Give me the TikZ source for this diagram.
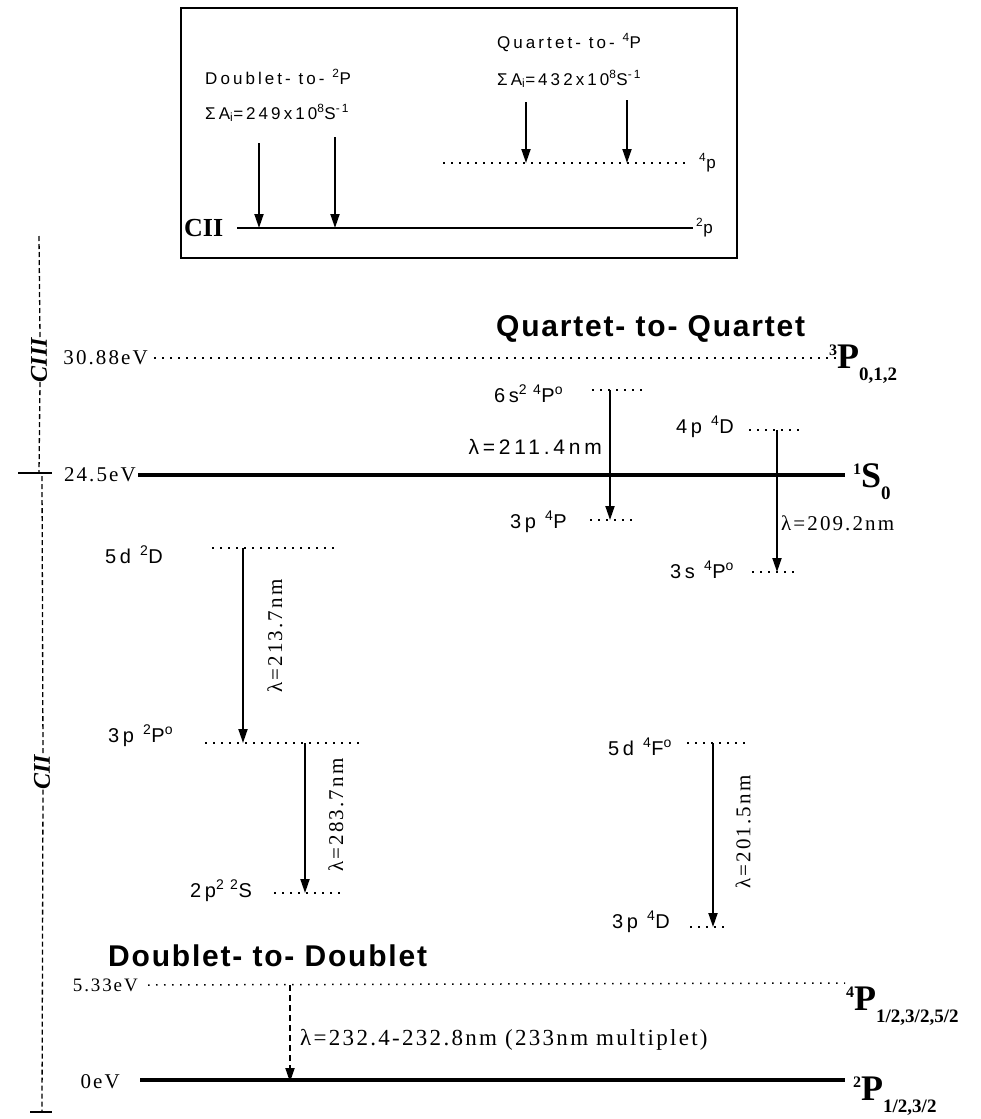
\documentclass[tikz,border=0pt]{standalone}
\usepackage{fontspec}
\setmainfont{Liberation Serif}
\setsansfont{Liberation Sans}
\newfontfamily\lvlfont[LetterSpace=18]{Liberation Sans}
\newfontfamily\valfont[LetterSpace=10]{Liberation Serif}
\newfontfamily\ttlfont[LetterSpace=6]{Liberation Sans}
\usetikzlibrary{arrows.meta}

\newcommand{\termsym}[3]{\rmfamily\bfseries
  \raisebox{13pt}{\fontsize{16}{16}\selectfont #1}%
  {\fontsize{36}{36}\selectfont #2}%
  \raisebox{-12pt}{\fontsize{19}{19}\selectfont #3}}

\begin{document}
\begin{tikzpicture}[
    x=1pt, y=-1pt,
    lvl/.style={font=\lvlfont\fontsize{20}{20}\selectfont, anchor=base west, inner sep=0pt},
    inset/.style={font=\lvlfont\fontsize{17}{17}\selectfont, anchor=base west, inner sep=0pt},
    val/.style={font=\valfont\fontsize{21}{21}\selectfont, inner sep=0pt},
    ttl/.style={font=\ttlfont\bfseries\fontsize{30}{30}\selectfont, anchor=base west, inner sep=0pt},
    trm/.style={anchor=base west, inner sep=0pt},
    axlbl/.style={font=\rmfamily\bfseries\itshape\fontsize{24}{24}\selectfont, rotate=90, inner sep=0pt},
    dots/.style={line width=1.5pt, dash pattern=on 1.5pt off 6.5pt},
    gnd/.style={line width=4pt},
    axis/.style={line width=1.3pt, dash pattern=on 5pt off 3pt},
    flow/.style={-{Triangle[length=14pt,width=9pt]}, line width=1.9pt},
  ]
  \useasboundingbox (0,0) rectangle (980,1119);

  % --- Inset: decay into the CII ground terms -----------------------------
  \draw[line width=1.2pt] (181,8) rectangle (737,258);
  \node[inset] (dblt) at (205,84)  {Doublet- to- \textsuperscript{2}P};
  \node[inset] (dblA) at (205,119) {ΣA\textsubscript{i}=249x10\textsuperscript{8}S\textsuperscript{-1}};
  \node[inset] (qrtt) at (497,48)  {Quartet- to- \textsuperscript{4}P};
  \node[inset] (qrtA) at (497,85)  {ΣA\textsubscript{i}=432x10\textsuperscript{8}S\textsuperscript{-1}};

  \node[font=\rmfamily\bfseries\fontsize{26}{26}\selectfont, anchor=west, inner sep=0pt] (cii) at (184,228) {CII};
  \coordinate (g2l) at (237,228);
  \coordinate (g2r) at (693,228);
  \draw[line width=1.6pt] (g2l) -- (g2r);
  \node[inset] (g2lbl) at (696,233) {\textsuperscript{2}p};

  \coordinate (q4l) at (443,163);
  \coordinate (q4r) at (688,163);
  \draw[dots] (q4l) -- (q4r);
  \node[inset] (q4lbl) at (699,168) {\textsuperscript{4}p};

  \coordinate (d1) at (259,143);
  \coordinate (d2) at (335,137);
  \coordinate (q1) at (526,102);
  \coordinate (q2) at (627,100);
  \foreach \n in {d1, d2}
    \draw[flow] (\n) -- (\n |- g2l);
  \foreach \n in {q1, q2}
    \draw[flow] (\n) -- (\n |- q4l);

  % --- Energy axis --------------------------------------------------------
  \node[axlbl] (ciii) at (39,360) {CIII};
  \node[axlbl] (cii2) at (42,772) {CII};
  \coordinate (axtop) at (39,236);
  \coordinate (ax24)  at (39,473);
  \coordinate (ax24b) at (42,476);
  \coordinate (axbot) at (42,1112);
  \draw[axis] (axtop) -- ([xshift=1pt]ciii.east);
  \draw[axis] ([xshift=1pt]ciii.west) -- (ax24);
  \draw[axis] (ax24b) -- ([xshift=1pt]cii2.east);
  \draw[axis] ([xshift=1pt]cii2.west) -- (axbot);
  \draw[line width=1.2pt] (18,473) -- (52,473);
  \draw[line width=1.2pt] (30,1112) -- (52,1112);

  % --- Main levels --------------------------------------------------------
  \node[val, anchor=east] (e3088) at (148,358) {30.88eV};
  \coordinate (c3r) at (850,358);
  \draw[dots] ([xshift=6pt]e3088.east) -- (c3r);
  \node[trm] (t3p) at (829,368) {\termsym{3}{P}{0,1,2}};
  \node[ttl] (qq) at (496,336) {Quartet- to- Quartet};

  \node[val, anchor=east] (e245) at (136,475) {24.5eV};
  \coordinate (s0r) at (845,475);
  \draw[gnd] ([xshift=2pt]e245.east) -- (s0r);
  \node[trm] (t1s) at (853,487) {\termsym{1}{S}{0}};

  \node[ttl] (dd) at (108,966) {Doublet- to- Doublet};
  \node[val, anchor=east, font=\valfont\fontsize{19}{19}\selectfont] (e533) at (138,985) {5.33eV};
  \coordinate (p4r) at (845,983);
  \draw[dots] ([xshift=10pt]e533.east) -- (p4r);
  \node[trm] (t4p) at (846,1010) {\termsym{4}{P}{1/2,3/2,5/2}};

  \node[val, anchor=east] (e0) at (120,1082) {0eV};
  \coordinate (p2l) at (140,1080);
  \coordinate (p2r) at (845,1080);
  \draw[gnd] (p2l) -- (p2r);
  \node[trm] (t2p) at (853,1100) {\termsym{2}{P}{1/2,3/2}};

  % --- Excited CII terms --------------------------------------------------
  \node[lvl] (l5dD)  at (105,563) {5d \textsuperscript{2}D};
  \node[lvl] (l3pPd) at (108,742) {3p \textsuperscript{2}P\textsuperscript{o}};
  \node[lvl] (l2pS)  at (190,897) {2p\textsuperscript{2 2}S};
  \node[lvl] (l6sP)  at (494,402) {6s\textsuperscript{2 4}P\textsuperscript{o}};
  \node[lvl] (l3pPq) at (510,528) {3p \textsuperscript{4}P};
  \node[lvl] (l4pD)  at (676,433) {4p \textsuperscript{4}D};
  \node[lvl] (l3sP)  at (670,578) {3s \textsuperscript{4}P\textsuperscript{o}};
  \node[lvl] (l5dF)  at (608,755) {5d \textsuperscript{4}F\textsuperscript{o}};
  \node[lvl] (l3pD)  at (612,928) {3p \textsuperscript{4}D};

  \coordinate (k5dD-a)  at (212,548); \coordinate (k5dD-b)  at (340,548);
  \coordinate (k3pPd-a) at (205,743); \coordinate (k3pPd-b) at (365,743);
  \coordinate (k2pS-a)  at (274,893); \coordinate (k2pS-b)  at (345,893);
  \coordinate (k6sP-a)  at (592,390); \coordinate (k6sP-b)  at (648,390);
  \coordinate (k3pPq-a) at (590,520); \coordinate (k3pPq-b) at (635,520);
  \coordinate (k4pD-a)  at (749,430); \coordinate (k4pD-b)  at (805,430);
  \coordinate (k3sP-a)  at (752,572); \coordinate (k3sP-b)  at (798,572);
  \coordinate (k5dF-a)  at (687,743); \coordinate (k5dF-b)  at (747,743);
  \coordinate (k3pD-a)  at (690,927); \coordinate (k3pD-b)  at (730,927);
  \foreach \n in {5dD, 3pPd, 2pS, 6sP, 3pPq, 4pD, 3sP, 5dF, 3pD}
    \draw[dots] (k\n-a) -- (k\n-b);

  % --- Transitions --------------------------------------------------------
  \coordinate (a2114) at (610,390);
  \coordinate (a2092) at (777,430);
  \coordinate (a2137) at (243,548);
  \coordinate (a2837) at (305,743);
  \coordinate (a2015) at (713,743);
  \coordinate (a233)  at (290,985);
  \draw[flow] (a2114) -- (a2114 |- k3pPq-a);
  \draw[flow] (a2092) -- (a2092 |- k3sP-a);
  \draw[flow] (a2137) -- (a2137 |- k3pPd-a);
  \draw[flow] (a2837) -- (a2837 |- k2pS-a);
  \draw[flow] (a2015) -- (a2015 |- k3pD-a);
  \draw[flow, dash pattern=on 6pt off 4pt] (a233) -- ([yshift=-2pt]a233 |- p2l);

  \node[lvl, font=\lvlfont\fontsize{21}{21}\selectfont, anchor=east] (w2114) at (602,447) {λ=211.4nm};
  \node[val, anchor=west] (w2092) at (781,523) {λ=209.2nm};
  \node[val, rotate=90] (w2137) at (275,636) {λ=213.7nm};
  \node[val, rotate=90] (w2837) at (336,815) {λ=283.7nm};
  \node[val, rotate=90] (w2015) at (743,832) {λ=201.5nm};
  \node[val, anchor=west, font=\valfont\fontsize{23}{23}\selectfont] (w233) at (300,1040) {λ=232.4-232.8nm (233nm multiplet)};

\end{tikzpicture}
\end{document}
